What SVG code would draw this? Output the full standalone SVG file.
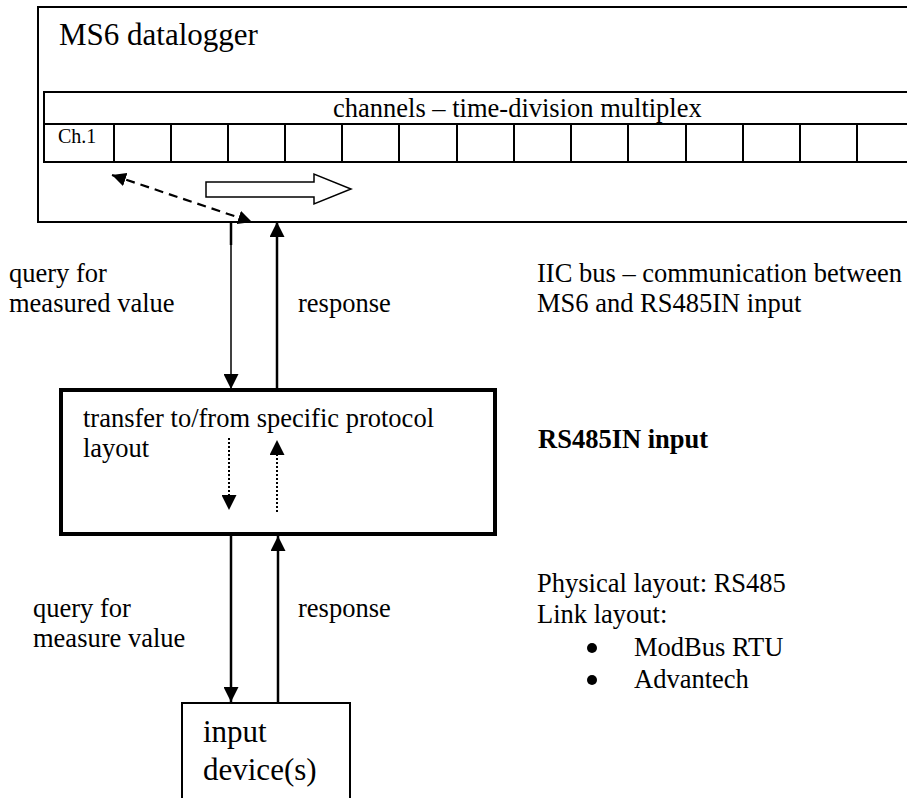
<svg xmlns="http://www.w3.org/2000/svg" width="907" height="798" viewBox="0 0 907 798">
<defs>
<style>
text{font-family:"Liberation Serif","Times New Roman",serif;fill:#000}
.t{font-size:26.5px}
.big{font-size:31px}
.box{fill:#fff;stroke:#000}
.ln{stroke:#000;fill:none}
</style>
<marker id="ah" viewBox="0 0 10 10" refX="10" refY="5" markerWidth="15" markerHeight="15" markerUnits="userSpaceOnUse" orient="auto-start-reverse">
<path d="M0,0 L10,5 L0,10 z" fill="#000"/>
</marker>
<marker id="ahs" viewBox="0 0 10 10" refX="10" refY="5" markerWidth="14" markerHeight="14" markerUnits="userSpaceOnUse" orient="auto-start-reverse">
<path d="M0,0 L10,5 L0,10 z" fill="#000"/>
</marker>
</defs>
<rect width="907" height="798" fill="#fff"/>

<g id="ms6">
<rect class="box" x="38" y="7" width="900" height="215" stroke-width="2"/>
<text class="big" x="59" y="45">MS6 datalogger</text>
<g id="channels">
<rect class="box" x="44" y="92" width="900" height="70" stroke-width="2"/>
<line class="ln" x1="44" y1="124" x2="907" y2="124" stroke-width="2"/>
<g class="ln" stroke-width="2">
<line x1="114" y1="124" x2="114" y2="162"/>
<line x1="171" y1="124" x2="171" y2="162"/>
<line x1="228" y1="124" x2="228" y2="162"/>
<line x1="285" y1="124" x2="285" y2="162"/>
<line x1="342" y1="124" x2="342" y2="162"/>
<line x1="399" y1="124" x2="399" y2="162"/>
<line x1="457" y1="124" x2="457" y2="162"/>
<line x1="514" y1="124" x2="514" y2="162"/>
<line x1="571" y1="124" x2="571" y2="162"/>
<line x1="628" y1="124" x2="628" y2="162"/>
<line x1="686" y1="124" x2="686" y2="162"/>
<line x1="743" y1="124" x2="743" y2="162"/>
<line x1="800" y1="124" x2="800" y2="162"/>
<line x1="857" y1="124" x2="857" y2="162"/>
</g>
<text class="t" x="333" y="117">channels – time-division multiplex</text>
<text x="58" y="143" font-size="20">Ch.1</text>
</g>
<polygon id="mux-arrow" points="206,182 314,182 314,174 351,189 314,204 314,197 206,197" fill="#fff" stroke="#000" stroke-width="1.5"/>
</g>

<g id="rs485in">
<rect class="box" x="61" y="390" width="434" height="144" stroke-width="4"/>
<text class="t" x="83" y="427">transfer to/from specific protocol</text>
<text class="t" x="83" y="457">layout</text>
</g>

<g id="device">
<rect class="box" x="182" y="703" width="168" height="110" stroke-width="2"/>
<text class="big" x="203" y="742">input</text>
<text class="big" x="203" y="780">device(s)</text>
</g>

<g id="connectors">
<line class="ln" x1="112" y1="175" x2="252" y2="222" stroke-width="2.2" stroke-dasharray="9,6" marker-start="url(#ahs)" marker-end="url(#ahs)"/>
<line class="ln" x1="231" y1="222" x2="231" y2="245" stroke-width="2.5"/>
<line class="ln" x1="231" y1="222" x2="231" y2="389" stroke-width="1.5" marker-end="url(#ah)"/>
<line class="ln" x1="277" y1="389" x2="277" y2="222" stroke-width="2.5" marker-end="url(#ah)"/>
<line class="ln" x1="229" y1="438" x2="229" y2="510" stroke-width="2" stroke-dasharray="2,2" marker-end="url(#ah)"/>
<line class="ln" x1="277" y1="512" x2="277" y2="440" stroke-width="2" stroke-dasharray="2,2" marker-end="url(#ah)"/>
<line class="ln" x1="231" y1="536" x2="231" y2="702" stroke-width="2.5" marker-end="url(#ah)"/>
<line class="ln" x1="278" y1="703" x2="278" y2="536" stroke-width="2.5" marker-end="url(#ah)"/>
</g>

<g id="labels">
<text class="t" x="9" y="282">query for</text>
<text class="t" x="9" y="312">measured value</text>
<text class="t" x="298" y="312">response</text>
<text class="t" x="537" y="282">IIC bus – communication between</text>
<text class="t" x="537" y="312">MS6 and RS485IN input</text>
<text class="t" x="538" y="448" font-weight="bold">RS485IN input</text>
<text class="t" x="33" y="617">query for</text>
<text class="t" x="33" y="647">measure value</text>
<text class="t" x="298" y="617">response</text>
<text class="t" x="537" y="592">Physical layout: RS485</text>
<text class="t" x="537" y="623">Link layout:</text>
<circle cx="592" cy="648" r="5" fill="#000"/>
<text class="t" x="634" y="656">ModBus RTU</text>
<circle cx="592" cy="680" r="5" fill="#000"/>
<text class="t" x="634" y="688">Advantech</text>
</g>
</svg>
